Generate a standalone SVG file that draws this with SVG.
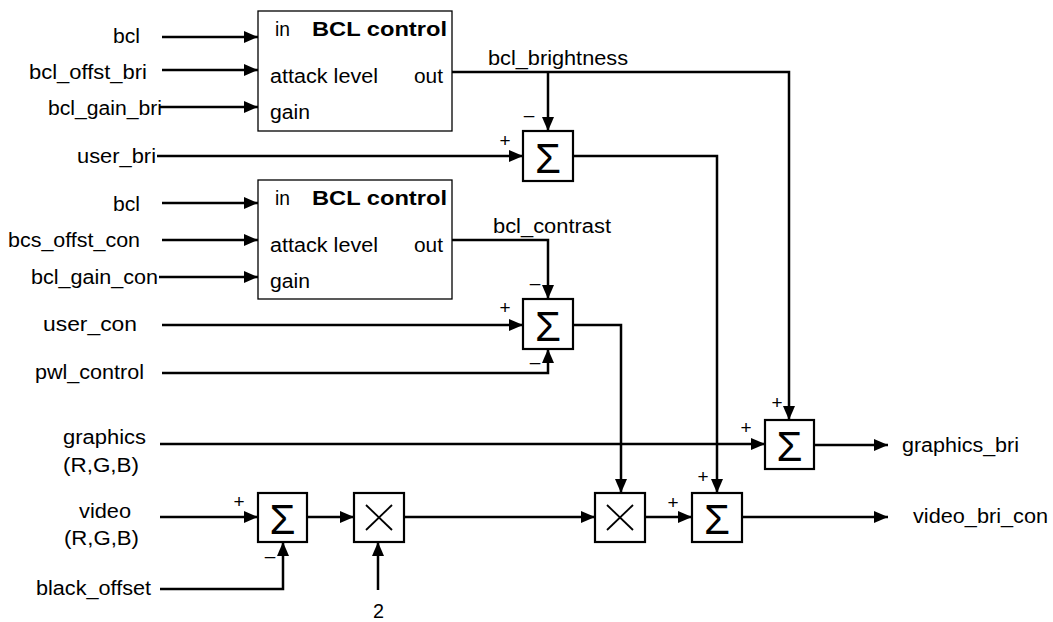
<svg xmlns="http://www.w3.org/2000/svg" width="1053" height="622" viewBox="0 0 1053 622">
<style>
text{font-family:"Liberation Sans",Arial,sans-serif;font-size:20px;fill:#000}
.b{font-weight:bold;font-size:20px}
.sig{font-size:42px;text-anchor:middle}
.bcl{fill:#fff;stroke:#000;stroke-width:1.3}
.op{fill:#fff;stroke:#000;stroke-width:2.2}
.x{stroke:#000;stroke-width:1.8}
.c{fill:none;stroke:#000;stroke-width:2.5}
.a{marker-end:url(#arr)}
.pm{font-size:19px;text-anchor:middle}
</style>
<defs>
<marker id="arr" markerUnits="userSpaceOnUse" viewBox="0 0 14 12" markerWidth="14" markerHeight="12" refX="14" refY="6" orient="auto">
<path d="M0,0 L14,6 L0,12 z" fill="#000"/>
</marker>
</defs>
<rect width="1053" height="622" fill="#fff"/>

<g id="connectors">
<path class="c a" d="M162,37 H258"/>
<path class="c a" d="M162,70 H258"/>
<path class="c a" d="M160,107 H258"/>
<path class="c a" d="M157,156 H523"/>
<path class="c a" d="M162,203 H258"/>
<path class="c a" d="M162,240 H258"/>
<path class="c a" d="M159,277 H258"/>
<path class="c a" d="M162,325 H523"/>
<path class="c a" d="M162,373 H548 V349"/>
<path class="c a" d="M452,72 H789 V420"/>
<path class="c a" d="M548,72 V131"/>
<path class="c a" d="M452,240 H548 V299"/>
<path class="c a" d="M573,156 H717 V493"/>
<path class="c a" d="M573,325 H621 V493"/>
<path class="c a" d="M160,444 H765"/>
<path class="c a" d="M160,517 H258"/>
<path class="c a" d="M160,589 H283 V542"/>
<path class="c a" d="M307,517 H354"/>
<path class="c a" d="M378,590 V542"/>
<path class="c a" d="M404,517 H595"/>
<path class="c a" d="M645,517 H692"/>
<path class="c a" d="M814,445 H888"/>
<path class="c a" d="M742,517 H888"/>
</g>

<g id="inputs">
<text x="113" y="43" textLength="27" lengthAdjust="spacingAndGlyphs">bcl</text>
<text x="29" y="79" textLength="118" lengthAdjust="spacingAndGlyphs">bcl_offst_bri</text>
<text x="48" y="115" textLength="114" lengthAdjust="spacingAndGlyphs">bcl_gain_bri</text>
<text x="77" y="163" textLength="79" lengthAdjust="spacingAndGlyphs">user_bri</text>
<text x="113" y="211" textLength="27" lengthAdjust="spacingAndGlyphs">bcl</text>
<text x="8" y="247" textLength="132" lengthAdjust="spacingAndGlyphs">bcs_offst_con</text>
<text x="31" y="284" textLength="127" lengthAdjust="spacingAndGlyphs">bcl_gain_con</text>
<text x="43" y="331" textLength="94" lengthAdjust="spacingAndGlyphs">user_con</text>
<text x="35" y="379" textLength="109" lengthAdjust="spacingAndGlyphs">pwl_control</text>
<text x="63" y="444" textLength="83" lengthAdjust="spacingAndGlyphs">graphics</text>
<text x="63" y="472" textLength="76" lengthAdjust="spacingAndGlyphs">(R,G,B)</text>
<text x="79" y="518" textLength="52" lengthAdjust="spacingAndGlyphs">video</text>
<text x="64" y="545" textLength="75" lengthAdjust="spacingAndGlyphs">(R,G,B)</text>
<text x="36" y="595" textLength="115" lengthAdjust="spacingAndGlyphs">black_offset</text>
<text x="373" y="618" textLength="11" lengthAdjust="spacingAndGlyphs">2</text>
</g>

<g id="bcl_control_1">
<rect class="bcl" x="258" y="11" width="194" height="120"/>
<text x="275" y="36" textLength="15" lengthAdjust="spacingAndGlyphs">in</text>
<text class="b" x="312" y="36" textLength="135" lengthAdjust="spacingAndGlyphs">BCL control</text>
<text x="270" y="83" textLength="108" lengthAdjust="spacingAndGlyphs">attack level</text>
<text x="414" y="83" textLength="29" lengthAdjust="spacingAndGlyphs">out</text>
<text x="270" y="119" textLength="40" lengthAdjust="spacingAndGlyphs">gain</text>
</g>

<g id="bcl_control_2">
<rect class="bcl" x="258" y="180" width="194" height="119"/>
<text x="275" y="205" textLength="15" lengthAdjust="spacingAndGlyphs">in</text>
<text class="b" x="312" y="205" textLength="135" lengthAdjust="spacingAndGlyphs">BCL control</text>
<text x="270" y="252" textLength="108" lengthAdjust="spacingAndGlyphs">attack level</text>
<text x="414" y="252" textLength="29" lengthAdjust="spacingAndGlyphs">out</text>
<text x="270" y="288" textLength="40" lengthAdjust="spacingAndGlyphs">gain</text>
</g>

<g id="signal_labels">
<text x="488" y="65" textLength="140" lengthAdjust="spacingAndGlyphs">bcl_brightness</text>
<text x="493" y="233" textLength="118" lengthAdjust="spacingAndGlyphs">bcl_contrast</text>
<text x="902" y="452" textLength="117" lengthAdjust="spacingAndGlyphs">graphics_bri</text>
<text x="913" y="523" textLength="135" lengthAdjust="spacingAndGlyphs">video_bri_con</text>
</g>

<g id="sum_bri">
<rect class="op" x="523" y="131" width="50" height="50"/>
<text class="sig" x="548" y="173">Σ</text>
<text class="pm" x="505" y="147">+</text>
<text class="pm" x="529" y="121">–</text>
</g>

<g id="sum_con">
<rect class="op" x="523" y="299" width="50" height="50"/>
<text class="sig" x="548" y="341">Σ</text>
<text class="pm" x="505" y="314">+</text>
<text class="pm" x="535" y="289">–</text>
<text class="pm" x="535" y="368">–</text>
</g>

<g id="sum_graphics">
<rect class="op" x="765" y="420" width="49" height="49"/>
<text class="sig" x="789.5" y="461">Σ</text>
<text class="pm" x="777" y="409">+</text>
<text class="pm" x="746" y="434">+</text>
</g>

<g id="sum_video">
<rect class="op" x="258" y="493" width="49" height="49"/>
<text class="sig" x="282.5" y="534">Σ</text>
<text class="pm" x="239" y="508">+</text>
<text class="pm" x="270" y="562">–</text>
</g>

<g id="mul_2">
<rect class="op" x="354" y="493" width="50" height="49"/>
<line class="x" x1="366" y1="505" x2="392" y2="530"/>
<line class="x" x1="392" y1="505" x2="366" y2="530"/>
</g>

<g id="mul_con">
<rect class="op" x="595" y="493" width="50" height="49"/>
<line class="x" x1="607" y1="505" x2="633" y2="530"/>
<line class="x" x1="633" y1="505" x2="607" y2="530"/>
</g>

<g id="sum_out">
<rect class="op" x="692" y="493" width="50" height="49"/>
<text class="sig" x="717" y="534">Σ</text>
<text class="pm" x="703" y="483">+</text>
<text class="pm" x="673" y="509">+</text>
</g>
</svg>
